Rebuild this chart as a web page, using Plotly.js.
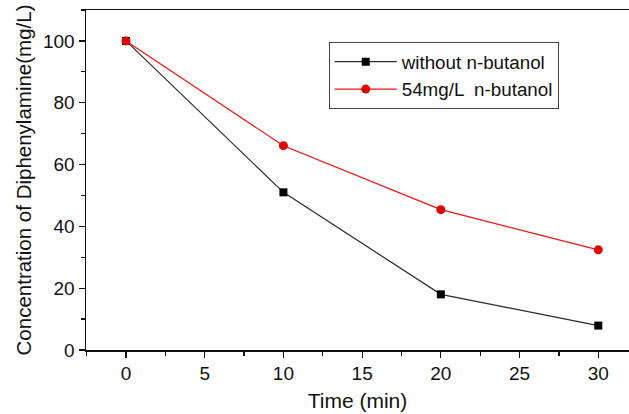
<!DOCTYPE html>
<html>
<head>
<meta charset="utf-8">
<script src="https://cdn.plot.ly/plotly-3.0.1.min.js"></script>
<style>html,body{margin:0;padding:0;background:#fff;}#chart{width:629px;height:414px;}</style>
</head>
<body>
<div id="chart"></div>
<script>
const time = [0, 10, 20, 30];
const withoutButanol = [100, 51.0, 18.0, 7.9];
const withButanol = [100, 66.1, 45.4, 32.4];
const seriesNames = ["without n-butanol", "54mg/L  n-butanol"];
const xTicks = [0, 5, 10, 15, 20, 25, 30];
const yTicks = [0, 20, 40, 60, 80, 100];

const font = "Liberation Sans, Arial, sans-serif";

const traces = [
  {
    x: time, y: withoutButanol, name: seriesNames[0], type: "scatter", mode: "lines+markers",
    line: {color: "#2a2a2a", width: 1.2},
    marker: {symbol: "square", size: 8, color: "#000000"}
  },
  {
    x: time, y: withButanol, name: seriesNames[1], type: "scatter", mode: "lines+markers",
    line: {color: "#ee1111", width: 1.2},
    marker: {symbol: "circle", size: 9, color: "#e00000"}
  }
];

const layout = {
  width: 629, height: 414,
  margin: {l: 86, r: 0, t: 10, b: 64},
  paper_bgcolor: "#ffffff", plot_bgcolor: "#ffffff",
  font: {family: font, color: "#111111", size: 19},
  showlegend: true,
  legend: {
    x: 0.447, y: 0.906, xanchor: "left", yanchor: "top",
    bordercolor: "#444444", borderwidth: 1, bgcolor: "#ffffff",
    font: {family: font, size: 18.8, color: "#111111"},
    itemwidth: 62, tracegroupgap: 0
  },
  xaxis: {
    range: [-2.54, 31.95],
    tickvals: xTicks, ticktext: xTicks.map(String),
    ticks: "outside", ticklen: 6, tickwidth: 1.2, tickcolor: "#111",
    showline: true, linecolor: "#111", linewidth: 1.5, mirror: true,
    showgrid: false, zeroline: false,
    tickfont: {family: font, size: 19},
    minor: {dtick: 2.5, tick0: 2.5, ticks: "outside", ticklen: 4, tickcolor: "#111", tickwidth: 1.2, showgrid: false},
    title: {text: "Time (min)", font: {family: font, size: 21}, standoff: 10}
  },
  yaxis: {
    range: [0, 110],
    tickvals: yTicks, ticktext: yTicks.map(String),
    ticks: "outside", ticklen: 6, tickwidth: 1.2, tickcolor: "#111",
    showline: true, linecolor: "#111", linewidth: 1.5, mirror: false,
    showgrid: false, zeroline: false,
    tickfont: {family: font, size: 19},
    minor: {dtick: 10, tick0: 10, ticks: "outside", ticklen: 4, tickcolor: "#111", tickwidth: 1.2, showgrid: false},
    title: {text: "Concentration of Diphenylamine(mg/L)", font: {family: font, size: 20.5}, standoff: 6}
  }
};

Plotly.newPlot("chart", traces, layout, {displayModeBar: false, staticPlot: true});
</script>
</body>
</html>
